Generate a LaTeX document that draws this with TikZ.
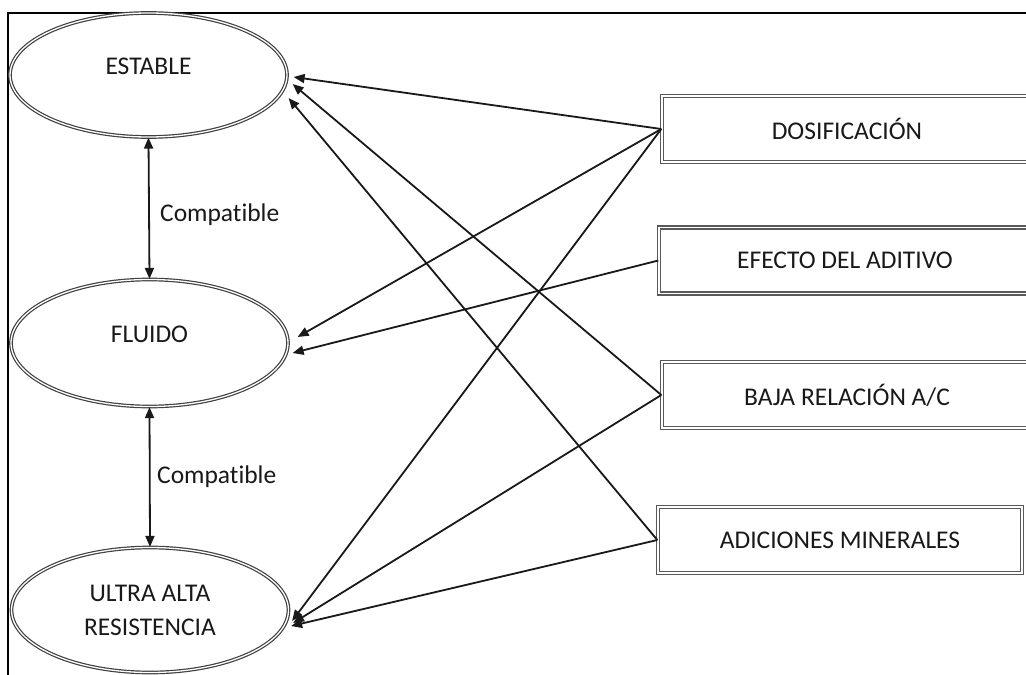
\documentclass[tikz,border=0pt]{standalone}
\usepackage{fontspec}
\setmainfont{Carlito}[Ligatures=NoCommon]
\usetikzlibrary{shapes.geometric,arrows.meta}
\begin{document}
\begin{tikzpicture}[x=1pt,y=-1pt,
  txt/.style={text=black!90,font=\fontsize{25.5}{34}\selectfont,align=center,inner sep=0pt},
  ell/.style={ellipse,draw=black!75,line width=1.2pt,double=white,double distance=1.3pt,minimum width=277pt,minimum height=124pt,inner sep=0pt,txt},
  box/.style={rectangle,draw=black!65,line width=1.4pt,double=white,double distance=1.5pt,minimum height=66pt,inner sep=0pt,txt},
  arr/.style={line width=1.8pt,draw=black!90,-{Triangle[length=11pt,width=9pt]}},
  biarr/.style={line width=1.8pt,draw=black!90,{Triangle[length=11pt,width=9pt]}-{Triangle[length=11pt,width=9pt]}},
]
\useasboundingbox (0,0) rectangle (1026,675);
\fill[white] (0,0) rectangle (1026,675);
\draw[line width=1.5pt] (8,675) -- (8,13) -- (1030,13);

\node[ell,label={[txt,yshift=9pt]center:ESTABLE}] (estable) at (148.5,75) {};
\node[ell,minimum height=127pt,label={[txt,yshift=9pt]center:FLUIDO}] (fluido) at (149.5,343) {};
\node[ell,minimum height=125pt] (ultra) at (150,610) {ULTRA ALTA\\RESISTENCIA};

\node[box,minimum width=370pt] (dosif) at (847,129) {DOSIFICACIÓN};
\node[box,minimum width=372pt] (efecto) at (845,260.5) {EFECTO DEL ADITIVO};
\node[box,minimum width=370pt] (baja) at (847,395) {BAJA RELACIÓN A/C};
\node[box,minimum width=364pt] (adic) at (840,540) {ADICIONES MINERALES};

\draw[arr] (dosif.west) -- ([shift={(6,2)}]estable.east);
\draw[arr] (baja.west) -- ([shift={(5,9)}]estable.east);
\draw[arr] (adic.west) -- ([shift={(1,23)}]estable.east);
\draw[arr] (dosif.west) -- ([shift={(9,-6)}]fluido.east);
\draw[arr] (efecto.west) -- ([shift={(4,10)}]fluido.east);
\draw[arr] (dosif.west) -- ([shift={(3,11)}]ultra.east);
\draw[arr] (baja.west) -- ([shift={(4,13)}]ultra.east);
\draw[arr] (adic.west) -- ([shift={(2,16)}]ultra.east);

\draw[biarr] (estable.south) -- (fluido.north);
\draw[biarr] (fluido.south) -- (ultra.north);
\node[txt,anchor=west] (c1) at (160,215) {Compatible};
\node[txt,anchor=west] (c2) at (157,477) {Compatible};
\end{tikzpicture}
\end{document}
